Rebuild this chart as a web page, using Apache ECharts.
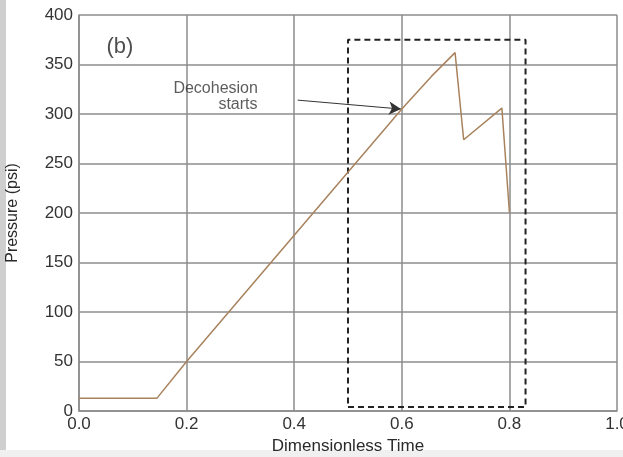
<!DOCTYPE html>
<html>
<head>
<meta charset="utf-8">
<script src="https://cdn.jsdelivr.net/npm/echarts@6/dist/echarts.min.js"></script>
<style>
  html, body { margin: 0; padding: 0; background: #fff; }
  #main { width: 623px; height: 457px; }
</style>
</head>
<body>
<div id="main"></div>
<script>
// pressure curve (dimensionless time, psi)
var timeData = [0, 0.145, 0.2, 0.6, 0.655, 0.699, 0.715, 0.786, 0.800];
var pressureData = [13, 13, 50, 305, 338, 362, 274, 306, 201];

// dashed box around the decohesion region
var boxX = [0.5, 0.83, 0.83, 0.5, 0.5];
var boxY = [4, 4, 375, 375, 4];

// arrow pointing at decohesion start
var arrowFrom = [0.4065, 314];
var arrowTo = [0.5985, 305];

var font = 'Liberation Sans, Arial, sans-serif';
var gridColor = '#8c8c8c';

var chart = echarts.init(document.getElementById('main'));

function pairs (xs, ys) {
  return xs.map(function (x, i) { return [x, ys[i]]; });
}

chart.setOption({
  animation: false,
  grid: { left: 79, right: 6, top: 15, bottom: 46, outerBoundsMode: 'none', containLabel: false },
  graphic: [
    { type: 'rect', shape: { x: 0, y: 0, width: 6, height: 457 }, style: { fill: '#cfcfcf' }, z: -1 },
    { type: 'rect', shape: { x: 0, y: 450, width: 623, height: 7 }, style: { fill: '#f0f0f0' }, z: -1 }
  ],
  xAxis: {
    type: 'value',
    min: 0,
    max: 1,
    interval: 0.2,
    name: 'Dimensionless Time',
    nameLocation: 'middle',
    nameGap: 26,
    nameTextStyle: { fontFamily: font, fontSize: 17, color: '#2a2a2a' },
    axisLine: { lineStyle: { color: gridColor, width: 1.5 } },
    axisTick: { show: false },
    axisLabel: {
      margin: 5,
      fontFamily: font, fontSize: 17, color: '#333',
      formatter: function (v) { return v.toFixed(1); }
    },
    splitLine: { show: true, lineStyle: { color: gridColor, width: 1.5 } }
  },
  yAxis: {
    type: 'value',
    min: 0,
    max: 400,
    interval: 50,
    name: 'Pressure (psi)',
    nameLocation: 'middle',
    nameGap: 58,
    nameTextStyle: { fontFamily: font, fontSize: 16, color: '#2a2a2a' },
    axisLine: { show: true, lineStyle: { color: gridColor, width: 1.5 } },
    axisTick: { show: false },
    axisLabel: { margin: 6, fontFamily: font, fontSize: 17, color: '#333' },
    splitLine: { show: true, lineStyle: { color: gridColor, width: 1.5 } }
  },
  series: [
    {
      name: 'Pressure',
      type: 'line',
      data: pairs(timeData, pressureData),
      showSymbol: false,
      lineStyle: { color: '#a8825c', width: 1.5 },
      z: 5,
      markLine: {
        silent: true,
        symbol: ['none', 'arrow'],
        symbolSize: [10, 12],
        label: { show: false },
        lineStyle: { color: '#333', width: 1, type: 'solid' },
        data: [[{ coord: arrowFrom }, { coord: arrowTo }]]
      }
    },
    {
      name: 'Box',
      type: 'line',
      data: pairs(boxX, boxY),
      showSymbol: false,
      lineStyle: { color: '#222', width: 2, type: [6, 4] },
      z: 4
    },
    {
      name: 'Labels',
      type: 'scatter',
      symbolSize: 0,
      z: 6,
      data: [
        { value: [0.076, 368], label: { formatter: '(b)', fontSize: 22, color: '#222' } },
        { value: [0.254, 326], label: { formatter: 'Decohesion', fontSize: 16 } },
        { value: [0.2955, 309], label: { formatter: 'starts', fontSize: 16 } }
      ],
      label: {
        show: true,
        position: 'inside',
        fontFamily: font,
        color: '#333'
      }
    }
  ]
});
</script>
</body>
</html>
